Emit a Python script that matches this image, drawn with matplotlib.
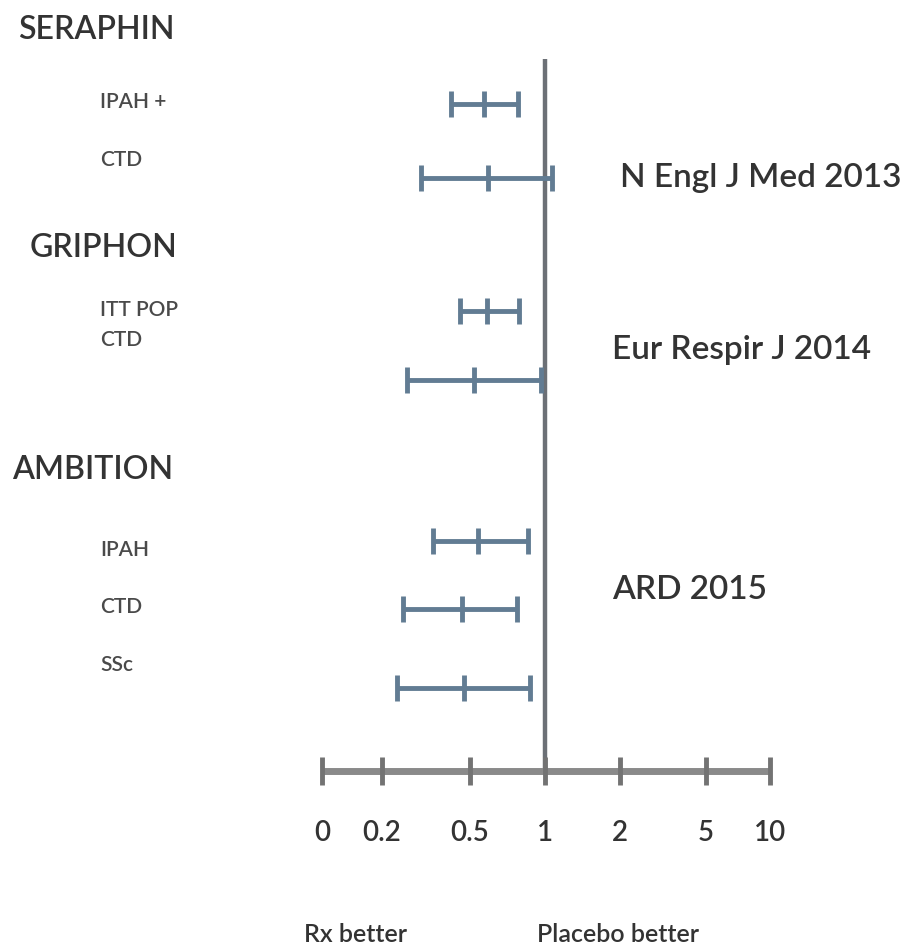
import numpy as np
import matplotlib
matplotlib.use("Agg")
import matplotlib.pyplot as plt

plt.rcParams['font.family'] = ['Lato', 'DejaVu Sans']

# ---- data -------------------------------------------------------------
studies = ["SERAPHIN", "GRIPHON", "AMBITION"]
journals = ["N Engl J Med 2013", "Eur Respir J 2014", "ARD 2015"]
subgroups = ["IPAH +", "CTD", "ITT POP", "CTD", "IPAH", "CTD", "SSc"]
hazard_ratio = [0.57, 0.59, 0.585, 0.52, 0.54, 0.46, 0.47]
ci_low = [0.41, 0.30, 0.45, 0.26, 0.34, 0.25, 0.235]
ci_high = [0.78, 1.07, 0.79, 0.96, 0.855, 0.77, 0.87]
tick_values = [0, 0.2, 0.5, 1, 2, 5, 10]
tick_labels = ["0", "0.2", "0.5", "1", "2", "5", "10"]

# ---- layout -----------------------------------------------------------
W, H = 917, 953
row_y = [105, 179, 312, 381, 542, 610, 689]
sub_label_y = [102, 160, 310, 340, 550, 607, 665]
study_pos = [(18, 30), (30, 248), (12, 470)]
journal_pos = [(620, 178), (612, 350), (612, 590)]
AX_LEFT, AX_RIGHT = 322, 770
AXIS_Y = 772

BAR_COLOR = "#627c93"
AXIS_COLOR = "#8a8a8a"
REF_COLOR = "#6c7076"
TEXT_COLOR = "#333333"
SUB_COLOR = "#4a4a4a"

# Hazard-ratio scale: log spacing from 0.2 to 10, with a short linear
# stub down to 0; drawn spacing between the labelled ticks.
LOG_02 = np.log10(0.2)
tick_gap = [0, 60, 148, 223, 298, 384, 448]


def _g(v):
    v = np.asarray(v, dtype=float)
    safe = np.where(v >= 0.2, v, 0.2)
    return np.where(v >= 0.2, np.log10(safe), LOG_02 - (0.2 - v))


def _ginv(g):
    g = np.asarray(g, dtype=float)
    safe = np.where(g >= LOG_02, g, LOG_02)
    return np.where(g >= LOG_02, 10.0 ** safe, 0.2 - (LOG_02 - g))


G_KNOTS = _g(np.array(tick_values, dtype=float))


def forward(v):
    return np.interp(_g(v), G_KNOTS, tick_gap)


def inverse(p):
    return _ginv(np.interp(p, tick_gap, G_KNOTS))


fig = plt.figure(figsize=(W / 100, H / 100), dpi=100)
fig.patch.set_facecolor("white")
ax = fig.add_axes([AX_LEFT / W, 0, (AX_RIGHT - AX_LEFT) / W, 1])
ax.set_xscale("function", functions=(forward, inverse))
ax.set_xlim(0, 10)
ax.set_ylim(H, 0)
ax.axis("off")

# reference line at HR = 1
ax.vlines(1, 60, AXIS_Y, color=REF_COLOR, lw=3.2, clip_on=False)

# horizontal axis with its ticks
ax.plot([0, 10], [AXIS_Y, AXIS_Y], color=AXIS_COLOR, lw=5,
        solid_capstyle="butt", clip_on=False)
ax.vlines(tick_values, AXIS_Y - 14, AXIS_Y + 14, color="#737373", lw=3.5,
          clip_on=False)
for v, lab in zip(tick_values, tick_labels):
    ax.text(v, 833, lab, ha="center", va="center", fontsize=20,
            color=TEXT_COLOR, fontweight="semibold", clip_on=False)

# confidence intervals with the point estimate
hr = np.array(hazard_ratio)
lo = np.array(ci_low)
hi = np.array(ci_high)
ax.errorbar(hr, row_y, xerr=[hr - lo, hi - hr], fmt="none", ecolor=BAR_COLOR,
            elinewidth=3.5, capsize=9.5, capthick=3.5, clip_on=False)
ax.plot(hr, row_y, ls="none", marker="|", markersize=19, mew=3.5,
        color=BAR_COLOR, clip_on=False)


def ftext(x, y, s, color=TEXT_COLOR, **kw):
    fig.text(x / W, 1 - y / H, s, va="center", color=color,
             fontweight="semibold", **kw)


for name, (x, y) in zip(studies, study_pos):
    ftext(x, y, name, fontsize=23)
for name, (x, y) in zip(journals, journal_pos):
    ftext(x, y, name, fontsize=24)
for name, y in zip(subgroups, sub_label_y):
    ftext(100, y, name, color=SUB_COLOR, fontsize=15)

ftext(356, 935, "Rx better", fontsize=18, ha="center")
ftext(618, 935, "Placebo better", fontsize=18, ha="center")

fig.savefig("out.png", dpi=100, facecolor="white")
